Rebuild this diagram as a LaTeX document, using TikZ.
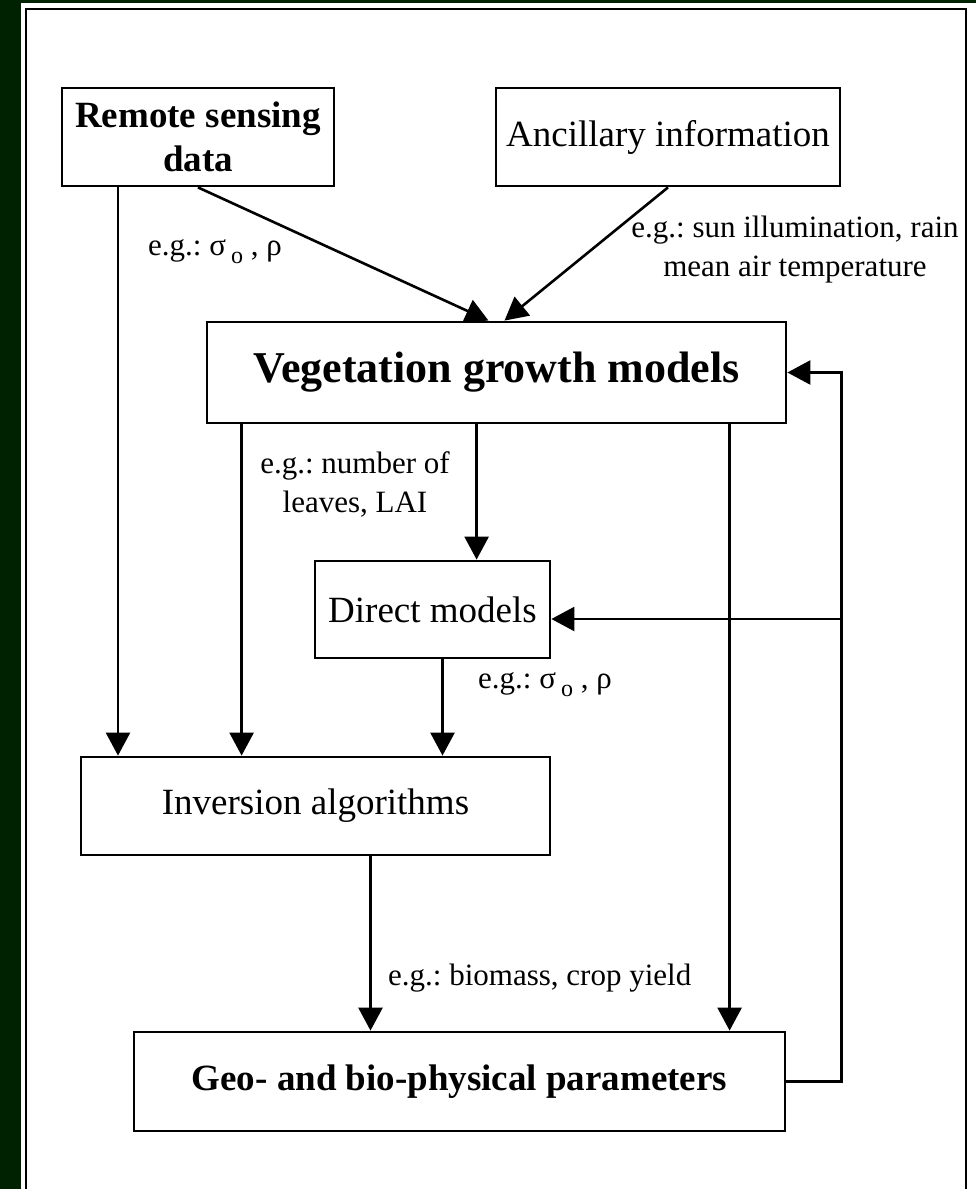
\documentclass[tikz,border=0pt]{standalone}
\usepackage{fontspec}
\setmainfont{Liberation Serif}
\usetikzlibrary{arrows.meta,calc,positioning}

\definecolor{framegreen}{RGB}{0,34,0}

\tikzset{
  box/.style={draw, line width=2.8pt, align=center, inner sep=0pt, font=\fontsize{37pt}{44pt}\selectfont},
  boldbox/.style={box, font=\fontsize{37pt}{44pt}\selectfont\bfseries},
  flow/.style={line width=2.6pt, -{Triangle[length=23pt,width=24pt]}},
  lbl/.style={inner sep=0pt, align=center, font=\fontsize{31pt}{39pt}\selectfont\frenchspacing},
}

\begin{document}
\begin{tikzpicture}[x=1pt,y=-1pt]
% page and frame
\useasboundingbox (0,0) rectangle (976,1189);
\fill[framegreen] (0,0) rectangle (976,1189);
\fill[white] (21,3) rectangle (976,1189);
\draw[line width=2.6pt] (26,1189) -- (26,9) -- (966,9) -- (966,1189);

% boxes
\node (rs) at (198,137) [boldbox, minimum width=272pt, minimum height=98pt] {Remote sensing\\data};
\node (anc) at (668,137) [box, minimum width=344pt, minimum height=98pt] {Ancillary information};
\node (veg) at (496.5,372.5) [boldbox, minimum width=579pt, minimum height=101pt, font=\fontsize{44pt}{52pt}\selectfont\bfseries] {Vegetation growth models};
\node (dir) at (432.5,609.5) [box, minimum width=235pt, minimum height=97pt] {Direct models};
\node (inv) at (315.5,806) [box, minimum width=469pt, minimum height=98pt] {Inversion algorithms};
\node (geo) at (459.5,1081.5) [boldbox, minimum width=651pt, minimum height=99pt] {Geo- and bio-physical parameters};

% inputs to the growth model
\coordinate (rsleft) at ([xshift=-80pt]rs.south);
\draw[flow] (rsleft) -- (rsleft |- inv.north);
\draw[flow] (rs.south) -- ([xshift=-8pt]veg.north);
\draw[flow] (anc.south) -- ([xshift=8pt]veg.north);

% outputs of the growth model
\coordinate (vegleft) at ([xshift=36pt]veg.south west);
\coordinate (vegmid) at ([xshift=271pt]veg.south west);
\coordinate (vegright) at ([xshift=524pt]veg.south west);
\draw[flow] (vegleft) -- (vegleft |- inv.north);
\draw[flow] (vegmid) -- (vegmid |- dir.north);
\draw[flow] (vegright) -- (vegright |- geo.north);

\coordinate (dirout) at ([xshift=10pt]dir.south);
\draw[flow] (dirout) -- (dirout |- inv.north);
\coordinate (invout) at ([xshift=55pt]inv.south);
\draw[flow] (invout) -- (invout |- geo.north);

% feedback loop
\coordinate (loop) at ([xshift=55pt]geo.east);
\coordinate (dirin) at ([yshift=-9.5pt]dir.east);
\draw[flow] (geo.east) -- (loop) |- (veg.east);
\draw[flow] (loop |- dirin) -- (dirin);

% labels
\node (lrs) at (148,252) [lbl, anchor=west] {e.g.: σ\,\raisebox{-8pt}{\fontsize{24pt}{24pt}\selectfont o} , ρ};
\node (lanc) at (795,250) [lbl] {e.g.: sun illumination, rain\\mean air temperature};
\node (lveg) at (355,484) [lbl] {e.g.: number of\\leaves, LAI};
\node (ldir) at (478,685) [lbl, anchor=west] {e.g.: σ\,\raisebox{-8pt}{\fontsize{24pt}{24pt}\selectfont o} , ρ};
\node (linv) at (388,978) [lbl, anchor=west] {e.g.: biomass, crop yield};
\end{tikzpicture}
\end{document}
